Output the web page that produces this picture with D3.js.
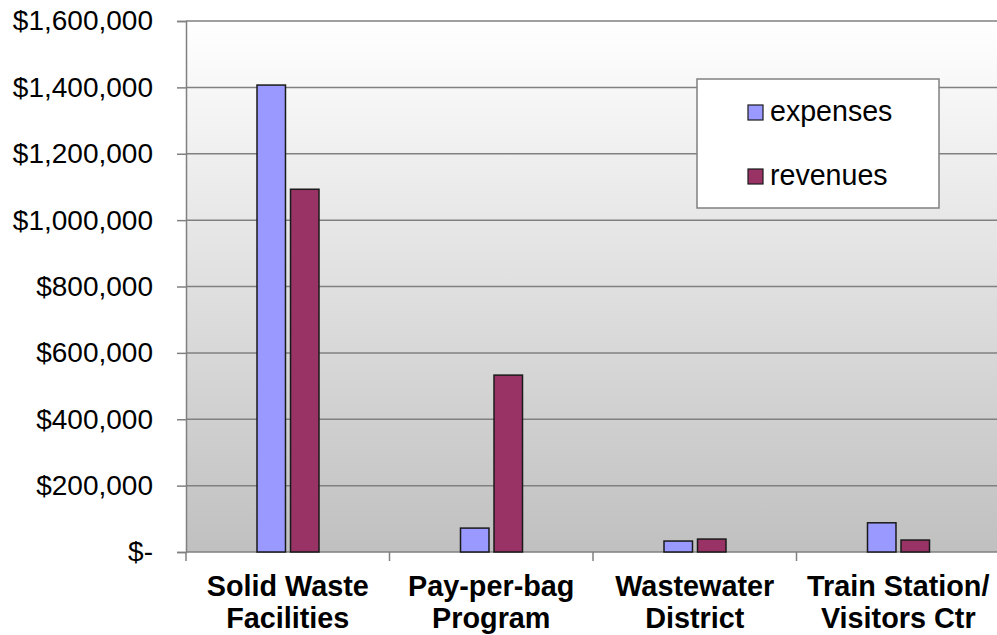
<!DOCTYPE html>
<html>
<head>
<meta charset="utf-8">
<script src="https://cdn.jsdelivr.net/npm/d3@7"></script>
<style>
  html, body { margin: 0; padding: 0; background: #ffffff; }
  svg { display: block; font-family: "Liberation Sans", Arial, sans-serif; }
</style>
</head>
<body>
<svg id="chart" width="997" height="635"></svg>
<script>
// Program categories (two-line labels)
const categories = [
  ["Solid Waste", "Facilities"],
  ["Pay-per-bag", "Program"],
  ["Wastewater", "District"],
  ["Train Station/", "Visitors Ctr"]
];
const seriesNames = ["expenses", "revenues"];
const expenses = [1407000, 72000, 33000, 88000];
const revenues = [1093000, 533000, 39000, 36000];
const yTicks = [0, 200000, 400000, 600000, 800000, 1000000, 1200000, 1400000, 1600000];
const yTickLabels = ["$-", "$200,000", "$400,000", "$600,000", "$800,000",
                     "$1,000,000", "$1,200,000", "$1,400,000", "$1,600,000"];

const colors = { expenses: "#9999ff", revenues: "#993366" };

const svg = d3.select("#chart");
const plot = { left: 186, right: 1000, top: 21, bottom: 552 };

const catKeys = categories.map(c => c.join(" "));
const x0 = d3.scaleBand().domain(catKeys).range([plot.left, plot.right]).paddingInner(0).paddingOuter(0);
const x1 = d3.scaleBand().domain(seriesNames).range([71, 133]).paddingInner(0.15).paddingOuter(0);
const y = d3.scaleLinear().domain([0, 1600000]).range([plot.bottom, plot.top]);

// plot-area gradient background
const defs = svg.append("defs");
const grad = defs.append("linearGradient").attr("id", "bg").attr("x1", 0).attr("y1", 0).attr("x2", 0).attr("y2", 1);
grad.append("stop").attr("offset", "0%").attr("stop-color", "#ffffff");
grad.append("stop").attr("offset", "100%").attr("stop-color", "#c0c0c0");

svg.append("rect")
  .attr("x", plot.left).attr("y", plot.top)
  .attr("width", plot.right - plot.left).attr("height", plot.bottom - plot.top)
  .attr("fill", "url(#bg)");

// horizontal gridlines
svg.append("g").selectAll("line").data(yTicks.slice(1)).join("line")
  .attr("x1", plot.left).attr("x2", plot.right)
  .attr("y1", d => y(d)).attr("y2", d => y(d))
  .attr("stroke", "#808080").attr("stroke-width", 1.5);

// y axis
const yAxis = d3.axisLeft(y).tickValues(yTicks)
  .tickFormat((d, i) => yTickLabels[i]).tickSize(9).tickPadding(24);
const gy = svg.append("g").attr("transform", `translate(${plot.left},0)`).call(yAxis);
gy.select(".domain").attr("stroke", "#808080").attr("stroke-width", 1.5);
gy.selectAll(".tick line").attr("stroke", "#808080").attr("stroke-width", 1.5);
gy.selectAll(".tick text").attr("font-size", 28).attr("fill", "#000")
  .attr("font-family", "'Liberation Sans', Arial, sans-serif");

// x axis with ticks between categories
const gx = svg.append("g").attr("transform", `translate(0,${plot.bottom})`);
gx.append("line").attr("x1", plot.left).attr("x2", plot.right)
  .attr("stroke", "#808080").attr("stroke-width", 1.5);
const boundaries = catKeys.map(k => x0(k)).concat([plot.right]);
gx.selectAll("line.tick").data(boundaries).join("line").attr("class", "tick")
  .attr("x1", d => d).attr("x2", d => d).attr("y1", 0).attr("y2", 9)
  .attr("stroke", "#808080").attr("stroke-width", 1.5);

const lab = gx.selectAll("text").data(categories).join("text")
  .attr("x", (d, i) => x0(catKeys[i]) + x0.bandwidth() / 2)
  .attr("text-anchor", "middle")
  .attr("font-size", 28.8).attr("font-weight", "bold").attr("fill", "#000");
lab.selectAll("tspan").data(d => d).join("tspan")
  .attr("x", function() { return this.parentNode.getAttribute("x"); })
  .attr("y", (d, i) => 44 + i * 32)
  .text(d => d);

// bars
const rows = catKeys.map((k, i) => ({ key: k, values: [
  { s: "expenses", v: expenses[i] }, { s: "revenues", v: revenues[i] }] }));
svg.append("g").selectAll("g").data(rows).join("g")
  .attr("transform", d => `translate(${x0(d.key)},0)`)
  .selectAll("rect").data(d => d.values).join("rect")
  .attr("x", d => x1(d.s)).attr("width", x1.bandwidth())
  .attr("y", d => y(d.v)).attr("height", d => y(0) - y(d.v))
  .attr("fill", d => colors[d.s]).attr("stroke", "#1a1a1a").attr("stroke-width", 1.5);

// legend
const lg = svg.append("g");
lg.append("rect").attr("x", 697).attr("y", 79).attr("width", 242).attr("height", 129)
  .attr("fill", "#ffffff").attr("stroke", "#808080").attr("stroke-width", 1.5);
const items = lg.selectAll("g.item").data(seriesNames).join("g").attr("class", "item")
  .attr("transform", (d, i) => `translate(748,${105 + i * 64})`);
items.append("rect").attr("width", 15).attr("height", 15)
  .attr("fill", d => colors[d]).attr("stroke", "#1a1a1a").attr("stroke-width", 1.2);
items.append("text").attr("x", 22).attr("y", 16)
  .attr("font-size", 28.6).attr("fill", "#000").text(d => d);
</script>
</body>
</html>
